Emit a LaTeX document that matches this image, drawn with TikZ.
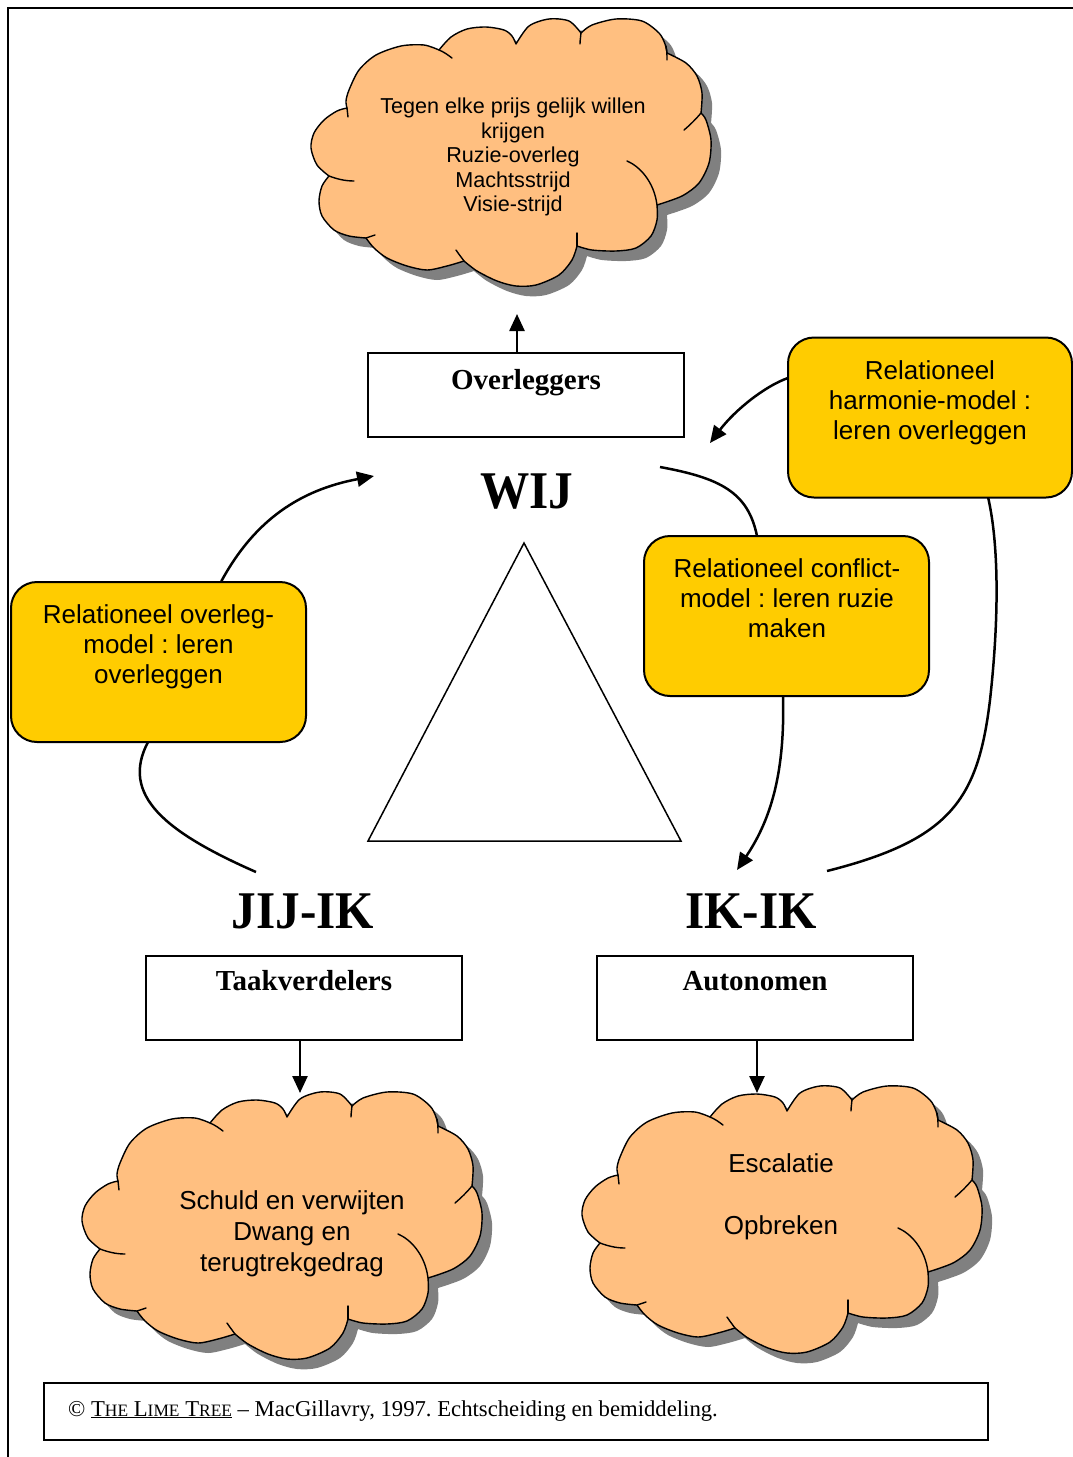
\documentclass[tikz,border=0pt]{standalone}
\usepackage{fontspec}
\setmainfont{Liberation Serif}
\newfontfamily\sansfont{Liberation Sans}
\usepackage{graphicx}
\usetikzlibrary{arrows.meta}
\frenchspacing
\definecolor{puffcolor}{RGB}{255,191,128}
\definecolor{puffshade}{RGB}{128,128,128}
\definecolor{notecolor}{RGB}{255,204,0}
\newcommand{\fsc}[1]{{\fontsize{17.4}{19}\selectfont #1}}
\tikzset{
  cloudbody/.style={fill=puffcolor, draw=black, line width=1.4pt, line join=round,
    preaction={fill=puffshade, transform canvas={xshift=10pt, yshift=-10pt}}},
  cloudline/.style={draw=black, line width=1.4pt, line cap=round},
  puffcloud/.pic={
    \path[cloudbody]
      (710,1117)
      -- plot[smooth] coordinates {(710,1117) (722,1104) (738,1096) (757,1094) (775,1097) (783,1103) (787,1111)}
      -- plot[smooth] coordinates {(787,1111) (800,1093) (820,1086) (840,1088) (852,1100)}
      -- plot[smooth] coordinates {(852,1100) (863,1092) (887,1086) (913,1088) (930,1100) (936,1111) (938,1120)}
      -- plot[smooth] coordinates {(938,1120) (957,1130) (968,1143) (973,1160) (972,1180)}
      -- plot[smooth] coordinates {(972,1180) (977,1187) (982,1207) (980,1230) (970,1250) (953,1263) (928,1272)}
      -- plot[smooth] coordinates {(928,1272) (928,1287) (922,1303) (907,1315) (887,1318) (863,1317) (848,1313)}
      -- plot[smooth] coordinates {(848,1313) (843,1327) (830,1342) (807,1352) (787,1353) (768,1348) (748,1338) (735,1328)}
      -- plot[smooth] coordinates {(735,1328) (718,1333) (698,1337) (678,1333) (658,1325) (645,1315) (637,1305)}
      -- plot[smooth] coordinates {(637,1305) (620,1303) (605,1297) (593,1283) (590,1268) (593,1253) (600,1243)}
      -- plot[smooth] coordinates {(600,1243) (588,1232) (582,1215) (585,1200) (595,1187) (608,1178) (618,1175)}
      -- plot[smooth] coordinates {(618,1175) (617,1168) (620,1157) (630,1137) (647,1122) (672,1113) (695,1112) (710,1117)}
      -- cycle;
    % inner fold lines of the cloud
    \draw[cloudline] (710,1117) .. controls (715,1119) and (719,1122) .. (723,1125);
    \draw[cloudline] (852,1098) .. controls (852,1102) and (851,1107) .. (851,1111);
    \draw[cloudline] (937,1113) .. controls (938,1118) and (938,1122) .. (938,1127);
    \draw[cloudline] (972,1180) .. controls (967,1186) and (961,1192) .. (955,1197);
    \draw[cloudline] (898,1228) .. controls (910,1233) and (925,1248) .. (928,1272);
    \draw[cloudline] (848,1300) .. controls (848,1305) and (848,1309) .. (848,1313);
    \draw[cloudline] (735,1328) .. controls (732,1324) and (729,1320) .. (727,1317);
    \draw[cloudline] (637,1305) .. controls (640,1304) and (643,1303) .. (646,1302);
    \draw[cloudline] (600,1243) .. controls (608,1246) and (616,1248) .. (625,1248);
    \draw[cloudline] (618,1175) .. controls (618,1178) and (619,1181) .. (619,1184);
  }
}
\begin{document}
\begin{tikzpicture}[x=1pt, y=-1pt,
  labelbox/.style={draw, line width=2pt, minimum width=316pt, minimum height=84pt, inner sep=0pt},
  boxlabel/.style={font=\fontsize{29}{34}\selectfont\bfseries, inner sep=0pt, anchor=base},
  bigword/.style={font=\fontsize{53}{60}\selectfont\bfseries, inner sep=0pt, anchor=base},
  notebox/.style={draw, fill=notecolor, line width=2pt, rounded corners=26pt, minimum height=160pt, inner sep=0pt},
  notetext/.style={font=\sansfont\fontsize{26}{30}\selectfont, align=center, inner sep=0pt, anchor=north},
  cloudtext/.style={font=\sansfont\fontsize{26}{31}\selectfont, align=center, inner sep=0pt, anchor=north},
  smallcloudtext/.style={font=\sansfont\fontsize{21.6}{24.5}\selectfont, align=center, inner sep=0pt, anchor=north},
  conn/.style={line width=2.5pt},
  arrowend/.style={-{Triangle[length=17pt, width=15pt]}},
]
\useasboundingbox (0,0) rectangle (1073,1457);
\fill[white] (0,0) rectangle (1073,1457);

% page frame
\draw[line width=2.2pt] (1073,8) -- (8,8) -- (8,1457);

% clouds
\pic at (-271,-1067) {puffcloud};
\pic at (-500,6) {puffcloud};
\pic at (0,0) {puffcloud};

\node[smallcloudtext] (cloudtop) at (513,98) {Tegen elke prijs gelijk willen\\krijgen\\Ruzie-overleg\\Machtsstrijd\\Visie-strijd};
\node[cloudtext] (cloudleft) at (292,1190.5) {Schuld en verwijten\\Dwang en\\terugtrekgedrag};
\node[cloudtext] (cloudright) at (781,1153) {Escalatie\\[31pt]Opbreken};

% type boxes
\node[labelbox] (over) at (526,395) {};
\node[boxlabel] (overlbl) at (526,389) {Overleggers};
\node[labelbox] (taak) at (303.5,998) {};
\node[boxlabel] (taaklbl) at (304,990) {Taakverdelers};
\node[labelbox] (auto) at (754.5,998) {};
\node[boxlabel] (autolbl) at (755,990) {Autonomen};

\draw[conn, arrowend] ([xshift=-9pt]over.north) -- ++(0,-38);
\draw[conn, arrowend] ([xshift=-3.5pt]taak.south) -- ++(0,52);
\draw[conn, arrowend] ([xshift=2.5pt]auto.south) -- ++(0,52);

% corner words
\node[bigword] (wij) at (527,508) {\scalebox{0.93}[1]{WIJ}};
\node[bigword] (jijik) at (303,928) {\scalebox{0.93}[1]{JIJ-IK}};
\node[bigword] (ikik) at (751,928) {\scalebox{0.93}[1]{IK-IK}};

% triangle
\draw[line width=1.5pt, line join=miter] (524,543) -- (368,841) -- (681,841) -- cycle;

% connector ends
\coordinate (jijfoot) at (256,872);
\coordinate (wijleft) at (374,476);
\coordinate (wijright) at (660,467);
\coordinate (ikhead) at (737,870);
\coordinate (ikfoot) at (827,871);
\coordinate (wijtip) at (710,443);

% connectors (the model boxes are drawn over them)
\draw[conn, arrowend] (jijfoot) .. controls (165,832) and (120,795) .. (148,742)
  -- (222,580) .. controls (255,520) and (300,490) .. (wijleft);
\draw[conn, arrowend] (wijright) .. controls (720,478) and (748,492) .. (757,536)
  -- (783,696) .. controls (785,770) and (772,818) .. (ikhead);
\draw[conn, arrowend] (ikfoot) .. controls (950,840) and (978,800) .. (990,700)
  .. controls (1000,610) and (998,540) .. (988,497)
  -- (788,378) .. controls (765,386) and (735,410) .. (wijtip);

% model boxes
\node[notebox, minimum width=295pt] (overlegmodel) at (158.5,662) {};
\node[notetext] (overlegtext) at (158.5,604) {Relationeel overleg-\\model : leren\\overleggen};
\node[notebox, minimum width=285pt] (conflictmodel) at (786.5,616) {};
\node[notetext] (conflicttext) at (787,558) {Relationeel conflict-\\model : leren ruzie\\maken};
\node[notebox, minimum width=284pt] (harmoniemodel) at (930,417.5) {};
\node[notetext] (harmonietext) at (930,360.5) {Relationeel\\harmonie-model :\\leren overleggen};

% credit line
\node[draw, line width=2pt, minimum width=944pt, minimum height=57pt, inner sep=0pt] (credit) at (516,1411.5) {};
\node[anchor=base west, inner sep=0pt, font=\fontsize{22.7}{25}\selectfont] (credittext) at (68,1416)
  {© \underline{T\fsc{HE} L\fsc{IME} T\fsc{REE}} – MacGillavry, 1997. Echtscheiding en bemiddeling.};
\end{tikzpicture}
\end{document}
